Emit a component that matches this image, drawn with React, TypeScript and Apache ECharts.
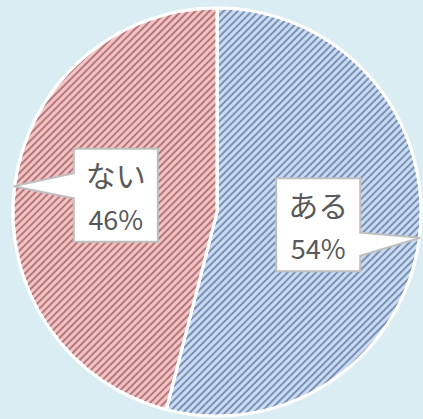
import React, { useEffect, useRef } from "react";
import * as echarts from "echarts";

const categories = ["ある", "ない"];
const values = [54, 46];
const sliceColors = ["#cadcf3", "#f5c2c2"];
const hatchColors = ["rgba(70,95,140,0.6)", "rgba(125,60,70,0.55)"];

const W = 423;
const H = 419;
const CX = 217;
const CY = 212;
const R = 204;

export default function App() {
  const ref = useRef<HTMLDivElement>(null);
  useEffect(() => {
    document.body.style.margin = "0";
    const chart = echarts.init(ref.current!, null, { renderer: "svg" });
    const total = values.reduce((a, b) => a + b, 0);
    let cum = 0;
    const graphics: any[] = [];
    values.forEach((v, i) => {
      const mid = ((cum + v / 2) / total) * Math.PI * 2;
      cum += v;
      const sx = Math.sin(mid);
      const cy = -Math.cos(mid);
      const tipX = CX + (R + 1) * sx;
      const tipY = CY + (R + 1) * cy;
      const bx = CX + R * 0.5 * sx;
      const by = CY + R * 0.5 * cy + (sx < 0 ? -4 : 0);
      const bw = 84;
      const bh = 93;
      const L = bx - bw / 2;
      const Rt = bx + bw / 2;
      const T = by - bh / 2;
      const B = by + bh / 2;
      let pts: number[][];
      if (sx > 0) {
        const y1 = tipY - 5;
        const y2 = tipY + 18;
        pts = [[L, T], [Rt, T], [Rt, y1], [tipX, tipY], [Rt, y2], [Rt, B], [L, B]];
      } else {
        const y1 = tipY - 13;
        const y2 = tipY + 12;
        pts = [[L, T], [Rt, T], [Rt, B], [L, B], [L, y2], [tipX, tipY], [L, y1]];
      }
      graphics.push({
        type: "polygon",
        z: 10,
        shape: { points: pts },
        style: { fill: "#ffffff", stroke: "#bfbfbf", lineWidth: 2 },
      });
      graphics.push({
        type: "text",
        z: 11,
        x: bx,
        y: by - 21,
        style: {
          text: categories[i],
          fill: "#595959",
          font: '30px "Noto Sans CJK JP"',
          align: "center",
          verticalAlign: "middle",
        },
      });
      graphics.push({
        type: "text",
        z: 11,
        x: bx,
        y: by + 23,
        style: {
          text: v + "%",
          fill: "#595959",
          font: '27px "Noto Sans CJK JP"',
          align: "center",
          verticalAlign: "middle",
        },
      });
    });

    chart.setOption({
      animation: false,
      backgroundColor: "#daedf3",
      series: [
        {
          type: "pie",
          center: [CX, CY],
          radius: [0, R],
          startAngle: 90,
          clockwise: true,
          label: { show: false },
          labelLine: { show: false },
          emphasis: { disabled: true },
          data: categories.map((c, i) => ({
            name: c,
            value: values[i],
            itemStyle: {
              color: sliceColors[i],
              borderColor: "#ffffff",
              borderWidth: 3,
              decal: {
                symbol: "rect",
                symbolSize: 1,
                color: hatchColors[i],
                dashArrayX: [[1, 0]],
                dashArrayY: [1.3, 3],
                rotation: -Math.PI / 4,
              },
            },
          })),
        },
      ],
      graphic: graphics,
    });
    return () => chart.dispose();
  }, []);
  return <div ref={ref} style={{ width: W, height: H }} />;
}
